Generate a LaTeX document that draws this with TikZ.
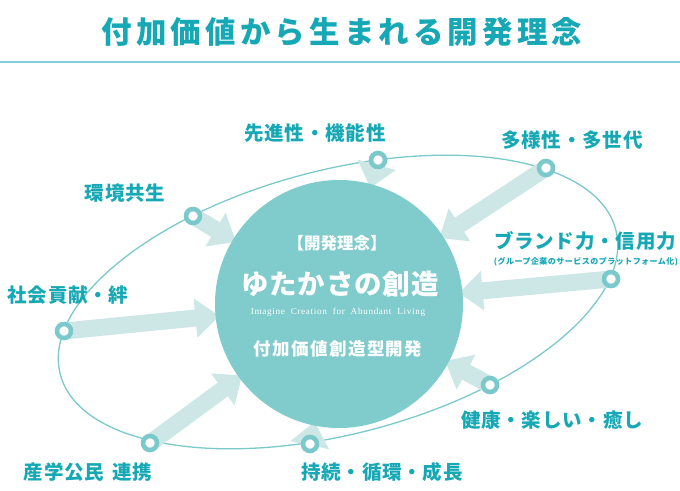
\documentclass[tikz,border=0pt]{standalone}
\definecolor{TealText}{HTML}{16A8B4}
\definecolor{TealCore}{HTML}{80CBCC}
\definecolor{TealRing}{HTML}{7CC9CB}
\definecolor{TealPale}{HTML}{CDE7E7}
\definecolor{TealRule}{HTML}{7FD2D7}
\usepackage{fontspec}
\setmainfont{Liberation Serif}
\newfontfamily\jp{Noto Sans CJK JP}
\usepackage{tikz}
\usetikzlibrary{arrows.meta,backgrounds}

\begin{document}
\begin{tikzpicture}[x=1pt,y=-1pt,
          ring/.style={circle,draw=TealRing,fill=white,line width=4.6pt,
                       minimum size=14pt,inner sep=0pt},
          core/.style={circle,fill=TealCore,minimum size=248pt,inner sep=0pt},
          flow/.style={draw=TealPale,line width=17pt,
                       -{Triangle[width=38pt,length=24pt]},shorten >=-4pt},
          tag/.style={text=TealText,inner sep=0pt,
                      font=\jp\bfseries\fontsize{19.5pt}{20pt}\selectfont\addfontfeature{LetterSpace=4}},
          inner/.style={text=white,inner sep=0pt}]
        \useasboundingbox (0,0) rectangle (680,490);
        % title
        \node[text=TealText,inner sep=0pt,
              font=\jp\bfseries\fontsize{30.5pt}{31pt}\selectfont\addfontfeature{LetterSpace=13.5}]
              (title) at (342,32) {付加価値から生まれる開発理念};
        \draw[TealRule,line width=1.2pt] (0,62) -- (680,62);
        % centre
        \node[core] (core) at (339,304) {};
        \node[inner,font=\jp\bfseries\fontsize{16.5pt}{17pt}\selectfont] (head) at (337,243) {【開発理念】};
        \node[inner,font=\jp\bfseries\fontsize{27.5pt}{28pt}\selectfont\addfontfeature{LetterSpace=3}] (main) at (340,284) {ゆたかさの創造};
        \node[inner,font=\fontsize{9.2pt}{10pt}\selectfont\addfontfeature{LetterSpace=7}] (eng) at (338,312) {Imagine\ \ Creation\ \ for\ \ Abundant\ \ Living};
        \node[inner,font=\jp\bfseries\fontsize{17.5pt}{18pt}\selectfont\addfontfeature{LetterSpace=8}] (sub) at (338,349) {付加価値創造型開発};
        % rings on the orbit
        \node[ring] (r1) at (378,160) {};
        \node[ring] (r2) at (546,168) {};
        \node[ring] (r3) at (193,216) {};
        \node[ring] (r4) at (611,279) {};
        \node[ring] (r5) at (64,331)  {};
        \node[ring] (r6) at (490,385) {};
        \node[ring] (r7) at (150,443) {};
        \node[ring] (r8) at (310,444) {};
        \begin{scope}[on background layer]
          \draw[TealRing,line width=1.3pt,rotate around={14.6:(338,302)}]
                (338,302) ellipse [x radius=287, y radius=132];
          \foreach \r in {r1,r2,r3,r4,r5,r6,r7,r8}
            \draw[flow] (\r.center) -- (core);
        \end{scope}
        % labels
        \node[tag] (l1) at (315,133) {先進性・機能性};
        \node[tag] (l2) at (572,140) {多様性・多世代};
        \node[tag] (l3) at (125,193) {環境共生};
        \node[tag] (l4) at (585,241) {ブランド力・信用力};
        \node[text=TealText,inner sep=0pt,
              font=\jp\bfseries\fontsize{8pt}{9pt}\selectfont\addfontfeature{LetterSpace=6}]
              (l4b) at (586,262) {(グループ企業のサービスのプラットフォーム化)};
        \node[tag] (l5) at (68,295)  {社会貢献・絆};
        \node[tag] (l6) at (552,420) {健康・楽しい・癒し};
        \node[tag] (l7) at (88,472)  {産学公民\hspace{8pt}連携};
        \node[tag] (l8) at (382,472) {持続・循環・成長};
      \end{tikzpicture}
\end{document}
